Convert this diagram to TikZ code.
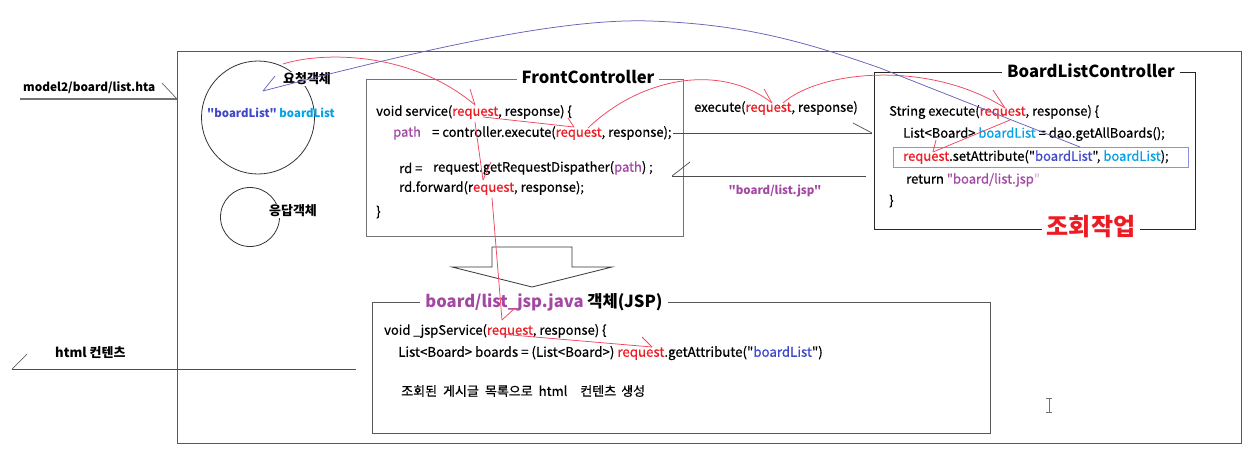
\documentclass[tikz,border=0pt]{standalone}
\usepackage{fontspec}
\setmainfont{Noto Sans CJK KR}
\newfontfamily\codefont[FakeBold=0.6]{Noto Sans CJK KR}
\newfontfamily\plainfont{Noto Sans CJK KR}
\definecolor{req}{RGB}{237,28,36}
\definecolor{pur}{RGB}{163,73,164}
\definecolor{ind}{RGB}{63,72,204}
\definecolor{cya}{RGB}{0,162,232}
\definecolor{redln}{RGB}{240,70,95}
\definecolor{bluln}{RGB}{100,100,185}
\newcommand{\Req}{\textcolor{req}{request}}
\newcommand{\dq}{\char"22\relax}
\begin{document}
\begin{tikzpicture}[x=1pt,y=-1pt,
  code/.style={anchor=west,inner sep=0pt,font=\codefont\fontsize{13}{15}\selectfont},
  lbl/.style={inner sep=1pt,fill=white,font=\bfseries\fontsize{13}{15}\selectfont},
  ttl/.style={fill=white,inner xsep=5pt,inner ysep=1pt,font=\bfseries\fontsize{16.6}{19}\selectfont},
  boxln/.style={draw=black!75,line width=0.9pt,anchor=north west,inner sep=0pt},
  redarr/.style={draw=redln,line width=0.75pt},
  bluarr/.style={draw=bluln,line width=0.75pt},
  grayln/.style={draw=black!70,line width=0.9pt}]
\fill[white] (0,0) rectangle (1251,456);
\useasboundingbox (0,0) rectangle (1251,456);

% outer box
\node[boxln,draw=black!65,minimum width=1064pt,minimum height=392pt] (outer) at (177,51) {};

% left labels
\node[anchor=west,inner sep=0pt,font=\bfseries\fontsize{11.8}{14}\selectfont] (hta) at (23,88) {model2/board/list.hta};
\coordinate (htaL) at (20,99);
\coordinate (htaR) at (177,99);
\draw[draw=black!55,line width=1.1pt] (htaL) -- (htaR);
\draw[draw=black!60,line width=0.7pt] (htaR) -- ++(-15,-16);

\node[anchor=west,inner sep=0pt,font=\bfseries\fontsize{13}{15}\selectfont] (html) at (55,353) {html 컨텐츠};
\coordinate (htmlR) at (356,369);
\coordinate (htmlL) at (12,369);
\draw[grayln] (htmlR) -- (htmlL);
\draw[draw=black!60,line width=0.7pt] (htmlL) -- ++(15,-15);

% circles
\node[circle,draw=black!80,line width=0.8pt,minimum size=113pt,inner sep=0pt] (reqobj) at (258,117.5) {};
\node[circle,draw=black!80,line width=0.8pt,minimum size=59pt,inner sep=0pt] (resobj) at (250,217) {};
\node[lbl] (reqlbl) at (307,79) {요청객체};
\node[lbl] (reslbl) at (293,211) {응답객체};
\node[anchor=west,inner sep=0pt,font=\plainfont\bfseries\fontsize{11.4}{14}\selectfont] (attr) at (207,113) {\textcolor{ind}{\dq boardList\dq} \textcolor{cya}{boardList}};

% FrontController
\node[boxln,draw=black!55,minimum width=317pt,minimum height=157pt] (fc) at (366,79) {};
\node[ttl] (fcT) at (588,77) {FrontController};
\node[code] (fc1) at (376,112) {void service(\Req, response) \{};
\node[code] (fc2a) at (393,133) {\textcolor{pur}{path}};
\node[code] (fc2b) at (432,133) {= controller.execute(\Req, response);};
\node[code] (fc3a) at (399,168) {rd =};
\node[code] (fc3b) at (433,168) {request.getRequestDispather(\textcolor{pur}{path}) ;};
\node[code] (fc4) at (399,188) {rd.forward(r\textcolor{req}{equest}, response);};
\node[code] (fc5) at (376,212) {\}};

% middle
\node[code] (ex) at (694,108) {execute(\Req, response)};
\coordinate (m1s) at (673,133);
\coordinate (m1e) at (872,133);
\draw[grayln,line width=0.8pt] (m1s) -- (m1e);
\draw[grayln,line width=0.7pt] (m1e) -- ++(-19,-10);
\coordinate (m2s) at (866,176);
\coordinate (m2e) at (672,176);
\draw[grayln,line width=0.8pt] (m2s) -- (m2e);
\draw[grayln,line width=0.7pt] (m2e) -- ++(18,-14);
\node[inner sep=0pt,font=\plainfont\bfseries\fontsize{11.5}{14}\selectfont] (jspname) at (775,191) {\textcolor{pur}{\dq board/list.jsp\dq}};

% BoardListController
\node[boxln,draw=black!85,minimum width=321pt,minimum height=157pt] (blc) at (874,72) {};
\node[ttl] (blcT) at (1091,71) {BoardListController};
\node[ttl,text=req,font=\bfseries\fontsize{24}{26}\selectfont] (jh) at (1091,227) {조회작업};
\node[boxln,draw=ind!60,line width=0.8pt,minimum width=295pt,minimum height=20pt] (hl) at (893,147) {};
\node[code] (b1) at (889,112) {String execute(\Req, response) \{};
\node[code] (b2) at (903,134) {List<Board> \textcolor{cya}{boardList} = dao.getAllBoards();};
\node[code] (b3) at (903,157) {\Req.setAttribute(\dq\textcolor{ind}{boardList}\dq, \textcolor{cya}{boardList});};
\node[code] (b4) at (906,180) {return \textcolor{pur}{\dq board/list.jsp}\textcolor{pur!40}{\dq}};
\node[code] (b5) at (889,201) {\}};

% hollow arrow
\draw[draw=black!80,line width=0.8pt] (492,247) -- (572,247) -- (572,267) -- (612,267) -- (532,287) -- (452,267) -- (492,267) -- cycle;

% JSP box
\node[boxln,draw=black!65,minimum width=618pt,minimum height=131pt] (jsp) at (372,302) {};
\node[ttl] (jspT) at (544,302) {\textcolor{pur}{board/list\_jsp.java} 객체(JSP)};
\node[code] (j1) at (384,331) {void \_jspService(\Req, response) \{};
\node[code,font=\codefont\fontsize{13.3}{15}\selectfont] (j2) at (398,353) {List<Board> boards = (List<Board>) \Req.getAttribute(\dq\textcolor{ind}{boardList}\dq)};
\node[code] (j3) at (401,391) {조회된\hspace{6pt}게시글\hspace{6pt}목록으로\hspace{6pt}html\hspace{13pt}컨텐츠\hspace{5pt}생성};

% cursor
\draw[draw=black!55,line width=0.7pt] (1046,398) -- (1052,398) (1049,398) -- (1049,412) (1046,412) -- (1052,412);

% red request flow
\coordinate (r1s) at (283,64);  \coordinate (r1e) at (475,105);
\draw[redarr] (r1s) .. controls (320,52) and (410,50) .. (r1e);
\draw[redarr] (r1e) -- ++(-5,-16);
\coordinate (r7s) at (475,122); \coordinate (r7e) at (483,180);
\draw[redarr] (r7s) -- (r7e);
\draw[redarr] (r7e) -- ++(8,-18);
\coordinate (r2s) at (483,117); \coordinate (r2e) at (574,127);
\draw[redarr] (r2s) -- (r2e);
\draw[redarr] (r2e) -- ++(-6,-9);
\coordinate (r3s) at (588,128); \coordinate (r3e) at (772,103);
\draw[redarr] (r3s) .. controls (640,78) and (720,62) .. (r3e);
\draw[redarr] (r3e) -- ++(-8,-14);
\coordinate (r4s) at (783,103); \coordinate (r4e) at (1005,108);
\draw[redarr] (r4s) .. controls (820,70) and (930,60) .. (r4e);
\draw[redarr] (r4e) -- ++(-12,-18);
\coordinate (r5s) at (1010,120); \coordinate (r5e) at (933,152);
\draw[redarr] (r5s) -- (r5e);
\draw[redarr] (r5e) -- ++(3,-12);
\coordinate (r6s) at (492,198); \coordinate (r6e) at (502,320);
\draw[redarr] (r6s) -- (r6e);
\draw[redarr] (r6e) -- ++(13,-12);
\coordinate (r8s) at (500,334); \coordinate (r8e) at (652,347);
\draw[redarr] (r8s) -- (r8e);
\draw[redarr] (r8e) -- ++(-10,-10);

% blue attribute flow
\coordinate (bs) at (1080,147); \coordinate (be) at (263,91);
\draw[bluarr] (be) .. controls (420,50) and (560,18) .. (650,21)
   .. controls (740,24) and (800,40) .. (880,68) -- (bs);
\draw[bluarr] (be) -- ++(12,-15);
\end{tikzpicture}
\end{document}
